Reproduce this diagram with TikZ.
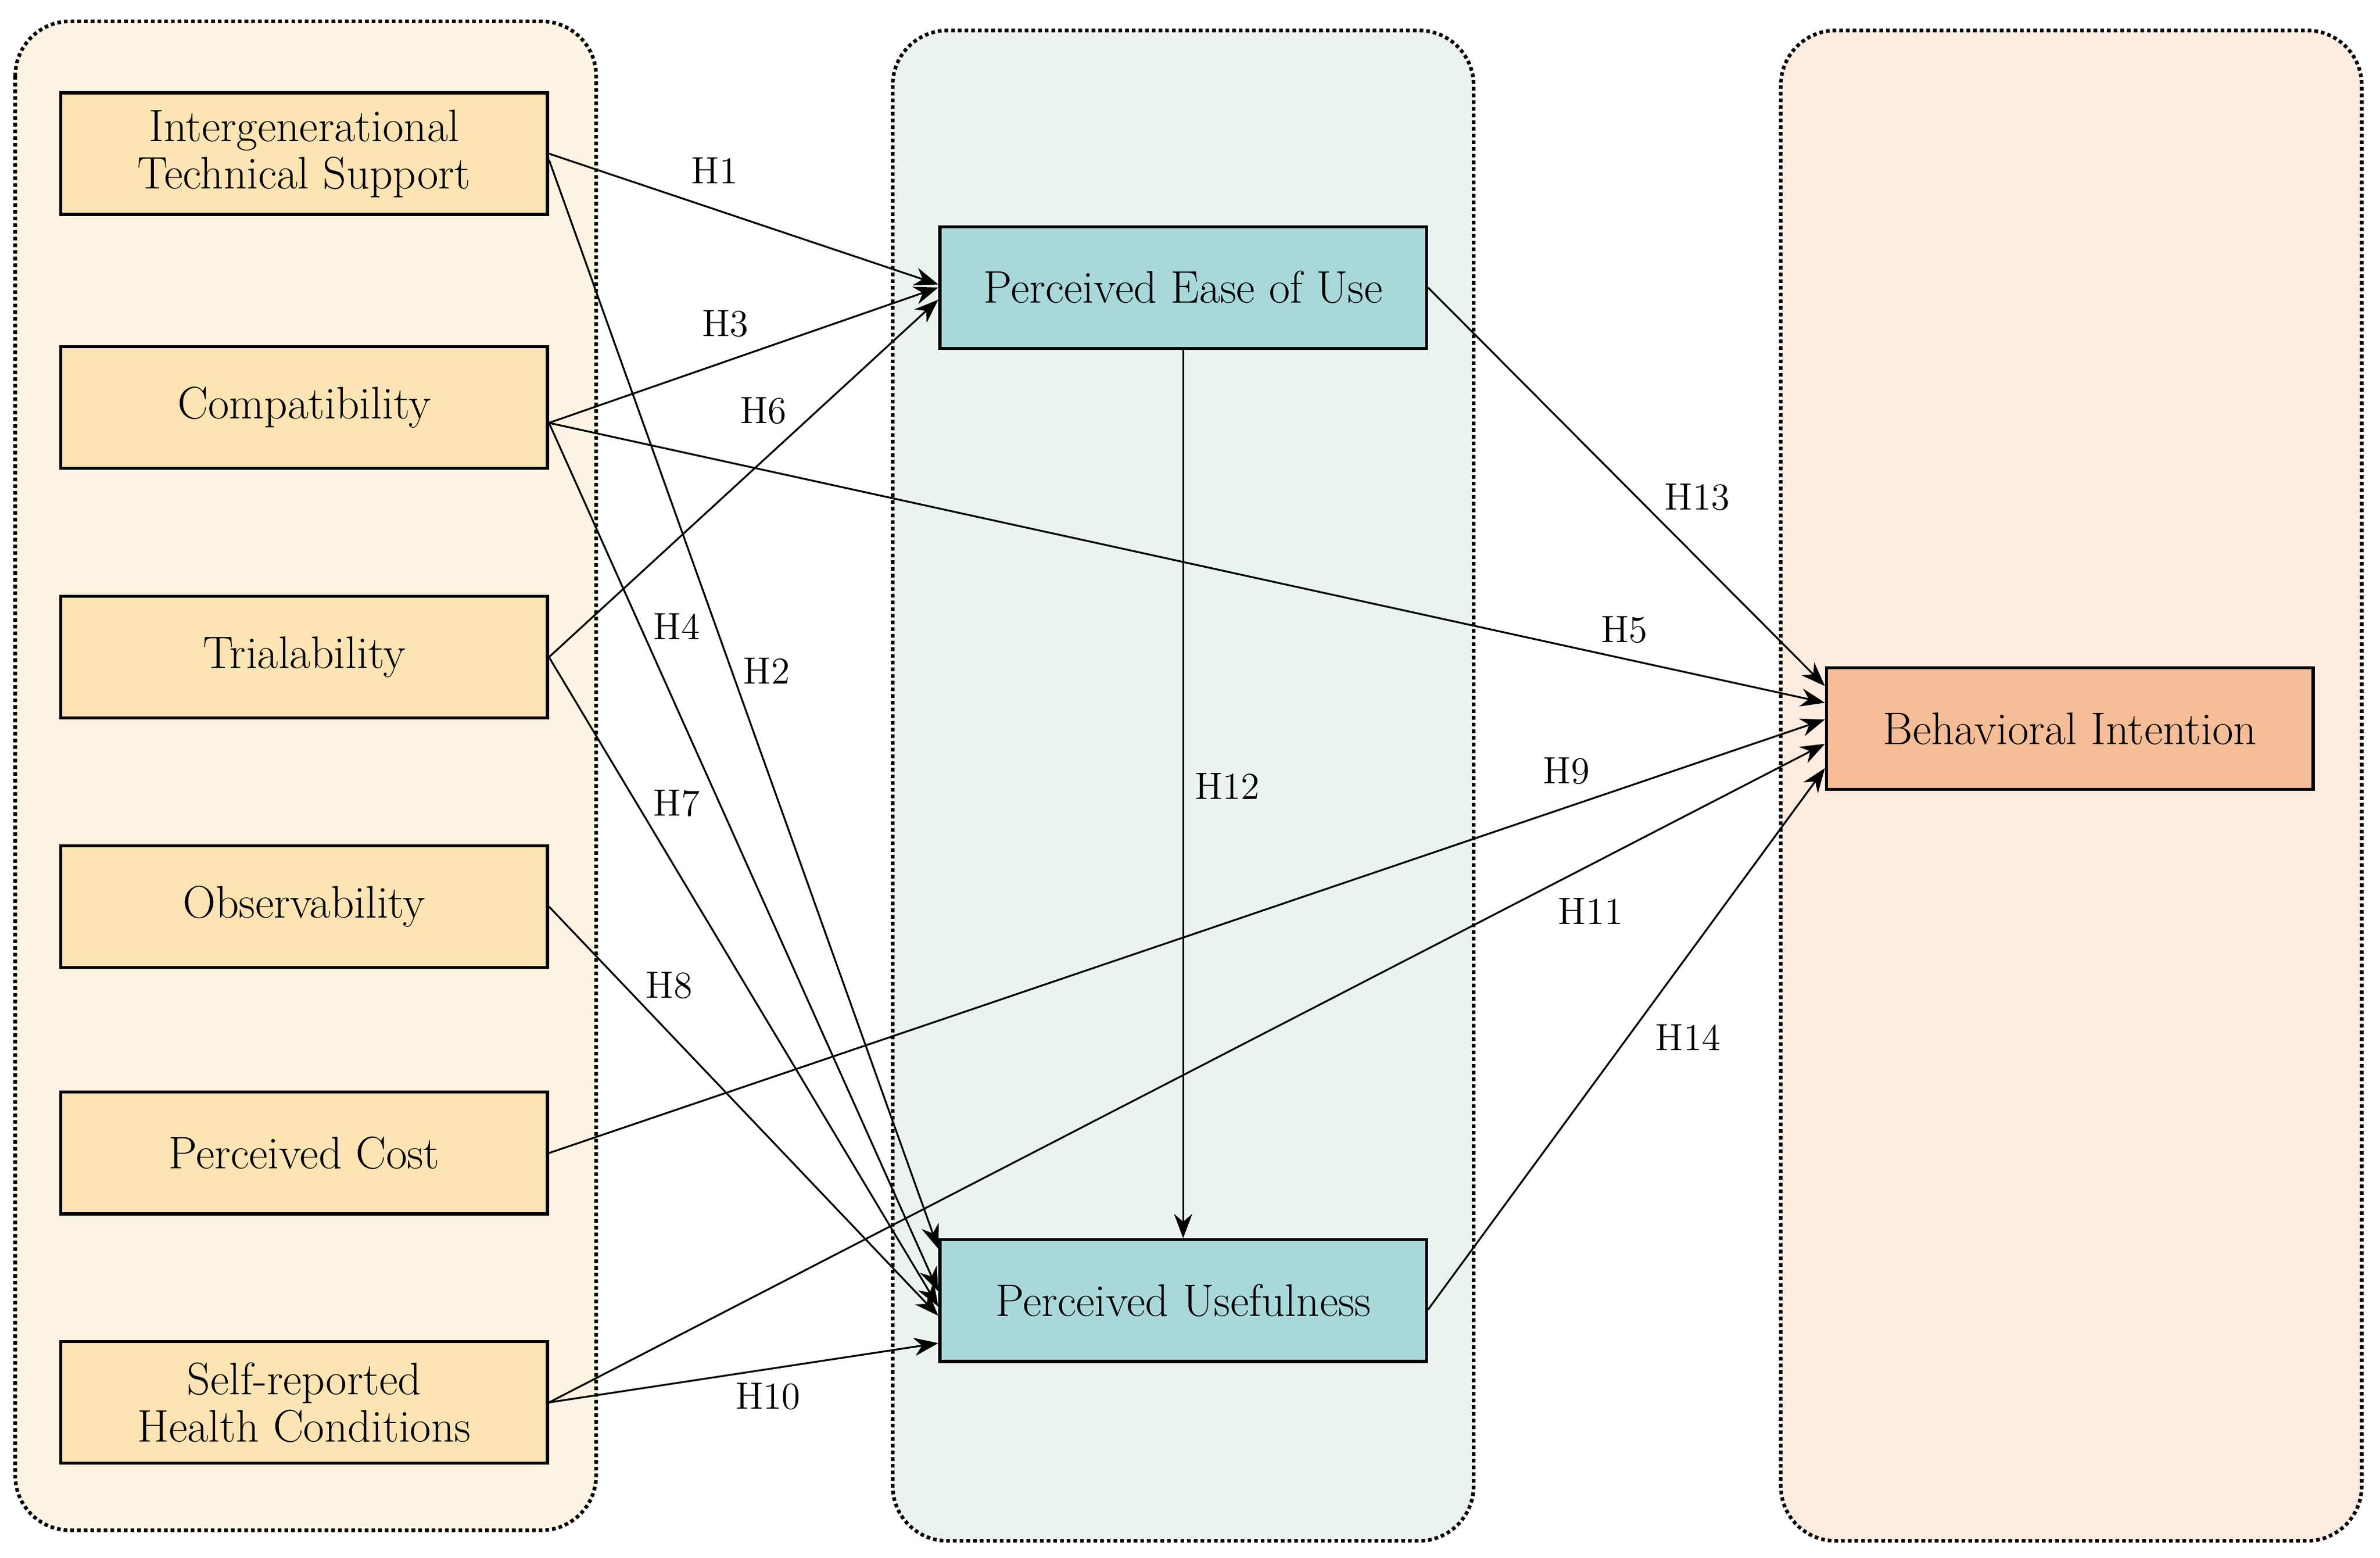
\documentclass[tikz,border=0pt]{standalone}
\usepackage{tikz}
\usetikzlibrary{arrows.meta}
\definecolor{grpL}{HTML}{FCF3E3}
\definecolor{grpM}{HTML}{EAF3EF}
\definecolor{grpR}{HTML}{FCEBDF}
\definecolor{boxL}{HTML}{FBE3B3}
\definecolor{boxM}{HTML}{A9D8DB}
\definecolor{boxR}{HTML}{F4BC97}
\tikzset{
  grp/.style={draw, densely dotted, line width=1.2pt, rounded corners=18pt},
  var/.style={draw, line width=1pt, minimum width=160pt, minimum height=40pt, align=center, font=\fontsize{15}{15.5}\selectfont, inner sep=1pt},
  hyp/.style={-{Stealth[length=8pt,width=6pt]}, line width=0.6pt},
  lab/.style={font=\fontsize{12.5}{13}\selectfont, inner sep=0.75pt}
}
\begin{document}
\begin{tikzpicture}[x=0.5pt,y=-0.5pt]
\useasboundingbox (0,0) rectangle (1565,1024);

% groups
\draw[grp, fill=grpL] (10,14) rectangle (392,1006);
\draw[grp, fill=grpM] (587,20) rectangle (969,1013);
\draw[grp, fill=grpR] (1171,20) rectangle (1553,1013);

% variables
\node[var, fill=boxL] (its) at (200,101) {Intergenerational\\Technical Support};
\node[var, fill=boxL] (com) at (200,268) {Compatibility};
\node[var, fill=boxL] (tri) at (200,432) {Trialability};
\node[var, fill=boxL] (obs) at (200,596) {Observability};
\node[var, fill=boxL] (pc) at (200,758) {Perceived Cost};
\node[var, fill=boxL] (shc) at (200,922) {Self-reported\\Health Conditions};
\node[var, fill=boxM] (peou) at (778,189) {Perceived Ease of Use};
\node[var, fill=boxM] (pu) at (778,855) {Perceived Usefulness};
\node[var, fill=boxR] (bi) at (1361,479) {Behavioral Intention};

% hypotheses
\draw[hyp] (its.east) -- ([yshift=1pt]peou.west);
\draw[hyp] ([yshift=-2pt]its.east) -- ([yshift=17pt]pu.west);
\draw[hyp] ([yshift=-5pt]com.east) -- ([yshift=0pt]peou.west);
\draw[hyp] ([yshift=-5pt]com.east) -- ([yshift=3pt]pu.west);
\draw[hyp] ([yshift=-5pt]com.east) -- ([yshift=8.5pt]bi.west);
\draw[hyp] (tri.east) -- ([yshift=-4pt]peou.west);
\draw[hyp] (tri.east) -- ([yshift=-2pt]pu.west);
\draw[hyp] (obs.east) -- ([yshift=-5pt]pu.west);
\draw[hyp] (pc.east) -- ([yshift=3pt]bi.west);
\draw[hyp] (shc.east) -- ([yshift=-14pt]pu.west);
\draw[hyp] (shc.east) -- ([yshift=-5pt]bi.west);
\draw[hyp] (peou.south) -- (pu.north);
\draw[hyp] (peou.east) -- ([yshift=14pt]bi.west);
\draw[hyp] ([yshift=-3pt]pu.east) -- ([yshift=-13pt]bi.west);

% labels
\node[lab] (h1) at (470,112) {H1};
\node[lab] (h2) at (504,441) {H2};
\node[lab] (h3) at (477,213) {H3};
\node[lab] (h4) at (445,412) {H4};
\node[lab] (h5) at (1068,414) {H5};
\node[lab] (h6) at (502,270) {H6};
\node[lab] (h7) at (445,528) {H7};
\node[lab] (h8) at (440,648) {H8};
\node[lab] (h9) at (1030,507) {H9};
\node[lab] (h10) at (505,918) {H10};
\node[lab] (h11) at (1046,599) {H11};
\node[lab] (h12) at (807,517) {H12};
\node[lab] (h13) at (1116,327) {H13};
\node[lab] (h14) at (1110,682) {H14};

\end{tikzpicture}
\end{document}
